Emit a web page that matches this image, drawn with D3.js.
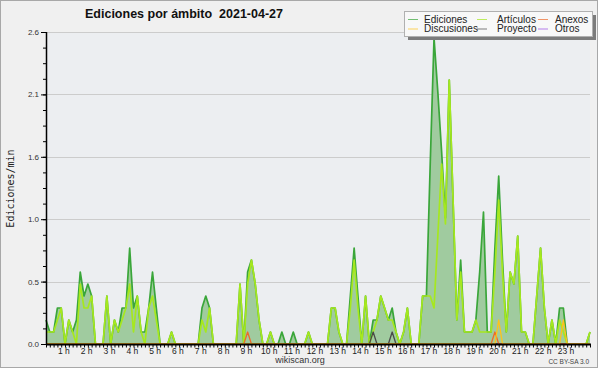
<!DOCTYPE html>
<html><head><meta charset="utf-8">
<script src="https://cdn.jsdelivr.net/npm/d3@7"></script>
<style>html,body{margin:0;padding:0;background:#fff}svg{display:block}</style>
</head><body>
<script>
const titleText = "Ediciones por ámbito  2021-04-27";
const yTitle = "Ediciones/min";
const seriesNames = ["Ediciones","Artículos","Anexos","Discusiones","Proyecto","Otros"];
const seriesColors = ["#3aa63a","#a6e81e","#ee6a2a","#ffc21a","#4a4a4a","#9a4de6"];
const yTickValues = [0, 0.52, 1.04, 1.56, 2.08, 2.6];
const yTickLabels = ["0.0","0.5","1.0","1.6","2.1","2.6"];
const hourLabels = ["1 h","2 h","3 h","4 h","5 h","6 h","7 h","8 h","9 h","10 h","11 h","12 h",
  "13 h","14 h","15 h","16 h","17 h","18 h","19 h","20 h","21 h","22 h","23 h"];
// 10-minute bins, 144 per day
const ediciones = [
 0.2,0.1,0.1,0.3,0.3,0,0.2,0.1,0.2,0.6,0.4,0.5,
 0.4,0,0,0,0.4,0,0.2,0.1,0.3,0.3,0.8,0.3,
 0.4,0.1,0.1,0.3,0.6,0.3,0,0,0,0.1,0,0,
 0,0,0,0,0,0.3,0.4,0.3,0,0,0,0,
 0,0,0,0.5,0,0.6,0.7,0.5,0.2,0,0,0.1,
 0,0,0.1,0,0,0.1,0,0,0,0.1,0,0,
 0,0,0,0.3,0.3,0.1,0,0,0.4,0.8,0.4,0,
 0.4,0,0.2,0.2,0.4,0.3,0.2,0.3,0.1,0,0.1,0.3,
 0,0,0,0.4,0.4,1.5,2.55,2.1,1.6,1.05,2.2,1.2,
 0.2,0.7,0.1,0.1,0.1,0.2,0.6,1.1,0.1,0.1,0.8,1.4,
 0.7,0.1,0.6,0.5,0.9,0.1,0.1,0,0,0.4,0.8,0.3,
 0,0.2,0,0.3,0.3,0,0,0,0,0,0,0.1];
const articulos = [
 0.1,0.1,0.1,0.2,0.3,0,0.2,0.1,0,0.5,0.3,0.3,
 0.4,0,0,0,0.4,0,0.2,0.1,0.2,0.3,0.5,0.1,
 0.4,0.1,0,0.3,0.4,0.2,0,0,0,0.1,0,0,
 0,0,0,0,0,0.2,0.1,0.3,0,0,0,0,
 0,0,0,0.5,0,0.5,0.7,0.5,0.2,0,0,0.1,
 0,0,0,0,0,0,0,0,0,0.1,0,0,
 0,0,0,0.3,0.3,0.1,0,0,0.3,0.7,0.3,0,
 0.4,0,0.1,0.2,0.4,0.3,0.2,0.2,0.1,0,0.1,0.3,
 0,0,0,0.4,0.4,0.4,0.3,0.9,1.5,1.0,2.2,1.2,
 0.2,0.6,0.1,0.1,0.1,0.2,0.1,0.1,0.1,0.1,0.6,1.2,
 0.6,0.1,0.6,0.5,0.9,0.1,0.1,0,0,0.4,0.8,0.3,
 0,0.2,0,0.2,0.1,0,0,0,0,0,0,0.1];
const anexos = [
 0,0,0,0,0,0,0,0,0,0,0,0, 0,0,0,0,0,0,0,0,0,0,0,0,
 0,0,0,0,0,0,0,0,0,0,0,0, 0,0,0,0,0,0,0,0,0,0,0,0,
 0,0,0,0,0,0.1,0,0,0,0,0,0, 0,0,0,0,0,0,0,0,0,0,0,0,
 0,0,0,0,0,0,0,0,0,0,0,0, 0,0,0,0,0,0,0,0,0,0,0,0,
 0,0,0,0,0,0,0,0,0,0,0,0, 0,0,0,0,0,0,0,0,0,0,0.1,0,
 0,0,0,0,0,0,0,0,0,0,0,0, 0,0,0,0,0,0,0,0,0,0,0,0];
const discusiones = [
 0,0,0,0,0,0,0,0,0,0,0,0, 0,0,0,0,0,0,0,0,0,0,0,0,
 0,0,0,0,0,0,0,0,0,0,0,0, 0,0,0,0,0,0,0,0,0,0,0,0,
 0,0,0,0,0,0,0,0,0,0,0,0, 0,0,0,0,0,0,0,0,0,0,0,0,
 0,0,0,0,0,0,0,0,0,0,0,0, 0,0,0,0,0,0,0,0,0,0,0,0,
 0,0,0,0,0,0,0,0,0,0,0,0, 0,0,0,0,0,0,0,0,0,0,0,0.2,
 0,0,0,0,0,0,0,0,0,0,0,0, 0,0,0,0,0.2,0,0,0,0,0,0,0];
const proyecto = [
 0,0,0,0,0,0,0,0,0,0,0,0, 0,0,0,0,0,0,0,0,0,0,0,0,
 0,0,0,0,0,0,0,0,0,0,0,0, 0,0,0,0,0,0,0,0,0,0,0,0,
 0,0,0,0,0,0,0,0,0,0,0,0, 0,0,0,0,0,0,0,0,0,0,0,0,
 0,0,0,0,0,0,0,0,0,0,0,0, 0,0,0.1,0,0,0,0,0.1,0,0,0,0,
 0,0,0,0,0,0,0,0,0,0,0,0, 0,0,0,0,0,0,0,0,0,0,0,0,
 0,0,0,0,0,0,0,0,0,0,0,0, 0,0,0,0,0,0,0,0,0,0,0,0];
const otros = [
 0,0,0,0,0,0,0,0,0,0,0,0, 0,0,0,0,0,0,0,0,0,0,0,0,
 0,0,0,0,0,0,0,0,0,0,0,0, 0,0,0,0,0,0,0,0,0,0,0,0,
 0,0,0,0,0,0,0,0,0,0,0,0, 0,0,0,0,0,0,0,0,0,0,0,0,
 0,0,0,0,0,0,0,0,0,0,0,0, 0,0,0,0,0,0,0,0,0,0,0,0,
 0,0,0,0,0,0,0,0,0,0,0,0, 0,0,0,0,0,0,0,0,0,0,0,0,
 0,0,0,0,0,0,0,0,0,0,0,0, 0,0,0,0,0,0,0,0,0,0,0,0];

const W = 600, H = 370;
const plot = {l: 46, r: 590, t: 32, b: 344};
const svg = d3.select("body").append("svg").attr("width", W).attr("height", H)
  .style("font-family", "'Liberation Sans', Arial, sans-serif");

svg.append("rect").attr("x",0).attr("y",0).attr("width",W).attr("height",H).attr("fill","#ffffff");
svg.append("rect").attr("x",0.5).attr("y",0.5).attr("width",597).attr("height",367)
  .attr("fill","#f0f0f0").attr("stroke","#a8a8a8").attr("stroke-width",1);
svg.append("rect").attr("x",plot.l).attr("y",plot.t).attr("width",plot.r-plot.l).attr("height",plot.b-plot.t)
  .attr("fill","#eceef1");

const x = d3.scaleLinear().domain([0, ediciones.length - 1]).range([plot.l, plot.r]);
const y = d3.scaleLinear().domain([0, 2.6]).range([plot.b, plot.t]);

// grid
svg.append("g").selectAll("line").data(yTickValues).join("line")
  .attr("x1", plot.l).attr("x2", plot.r)
  .attr("y1", d => Math.round(y(d)) + 0.5).attr("y2", d => Math.round(y(d)) + 0.5)
  .attr("stroke", "#cccccc").attr("stroke-width", 1);

// area
const area = d3.area().x((d,i) => x(i)).y0(plot.b).y1(d => y(d));
svg.append("path").datum(ediciones).attr("d", area).attr("fill", "#a0cb9f");

const line = d3.line().x((d,i) => x(i)).y(d => y(d));
const drawOrder = [
  [ediciones, seriesColors[0], 1.7],
  [articulos, seriesColors[1], 1.7],
  [otros, seriesColors[5], 1.3],
  [proyecto, seriesColors[4], 1.3],
  [anexos, seriesColors[2], 1.3],
  [discusiones, seriesColors[3], 1.3]
];
drawOrder.forEach(([data, color, w]) => {
  svg.append("path").datum(data).attr("d", line).attr("fill", "none")
    .attr("stroke", color).attr("stroke-width", w).attr("stroke-linejoin", "round");
});

// Y axis
const minorY = d3.range(0, 21).map(k => k * 0.13);
svg.append("g").attr("transform", `translate(${plot.l},0)`)
  .call(d3.axisLeft(y).tickValues(minorY).tickSize(3).tickSizeOuter(0).tickFormat(""))
  .call(g => g.select(".domain").remove())
  .call(g => g.selectAll("line").attr("stroke","#000"));
const yAx = svg.append("g").attr("transform", `translate(${plot.l},0)`)
  .call(d3.axisLeft(y).tickValues(yTickValues).tickSize(5).tickSizeOuter(0)
    .tickFormat((d,i) => yTickLabels[i]).tickPadding(2));
yAx.select(".domain").remove();
yAx.selectAll("line").attr("stroke","#000");
yAx.selectAll("text").attr("font-size", 8).attr("fill", "#333")
  .attr("font-family", "'Liberation Sans', Arial, sans-serif");
svg.append("line").attr("x1", plot.l + 0.5).attr("x2", plot.l + 0.5)
  .attr("y1", plot.t).attr("y2", plot.b + 1).attr("stroke", "#000").attr("stroke-width", 1.5);

// X axis
const xAx = svg.append("g").attr("transform", `translate(0,${plot.b})`)
  .call(d3.axisBottom(x).tickValues(d3.range(0, ediciones.length)).tickSize(3.5).tickSizeOuter(0).tickFormat(""));
xAx.select(".domain").remove();
xAx.selectAll("line").attr("stroke","#000");
svg.append("line").attr("x1", plot.l).attr("x2", plot.r + 1)
  .attr("y1", plot.b + 0.5).attr("y2", plot.b + 0.5).attr("stroke", "#000").attr("stroke-width", 2);

svg.append("g").selectAll("text").data(hourLabels).join("text")
  .attr("x", (d,i) => x((i + 1) * 6) - 5).attr("y", 354)
  .attr("text-anchor", "middle").attr("font-size", 8.5).attr("fill", "#222")
  .text(d => d);

// titles
svg.append("text").attr("x", 85).attr("y", 18).attr("font-size", 12.5).attr("font-weight", "bold")
  .attr("fill", "#111").style("white-space", "pre").text(titleText);
svg.append("text").attr("transform", "translate(13.5,188.5) rotate(-90)")
  .attr("text-anchor", "middle").attr("font-family", "'DejaVu Sans Mono', monospace")
  .attr("font-size", 10).attr("fill", "#222").text(yTitle);
svg.append("text").attr("x", 300).attr("y", 363).attr("text-anchor", "middle")
  .attr("font-size", 9).attr("fill", "#333").text("wikiscan.org");
svg.append("text").attr("x", 589).attr("y", 364).attr("text-anchor", "end")
  .attr("font-size", 6.5).attr("fill", "#444").text("CC BY-SA 3.0");

// legend
const lg = svg.append("g");
lg.append("rect").attr("x", 408).attr("y", 15).attr("width", 188).attr("height", 25).attr("fill", "#7c7c7c");
lg.append("rect").attr("x", 404.5).attr("y", 11.5).attr("width", 188).attr("height", 25)
  .attr("fill", "#f8f8f8").attr("stroke", "#b0b0b0");
const colX = [408, 477, 538];
const txtX = [424, 497, 555];
const rowY = [19, 28.5];
const legendOrder = [0, 1, 2, 3, 4, 5];
legendOrder.forEach((si, k) => {
  const c = k % 3, r = Math.floor(k / 3);
  lg.append("line").attr("x1", colX[c]).attr("x2", colX[c] + 10)
    .attr("y1", rowY[r] + 0.5).attr("y2", rowY[r] + 0.5)
    .attr("stroke", seriesColors[si]).attr("stroke-width", 1).attr("opacity", 0.7);
  lg.append("text").attr("x", txtX[c]).attr("y", rowY[r] + 3.7)
    .attr("font-size", 10).attr("fill", "#222").text(seriesNames[si]);
});
</script>
</body></html>
